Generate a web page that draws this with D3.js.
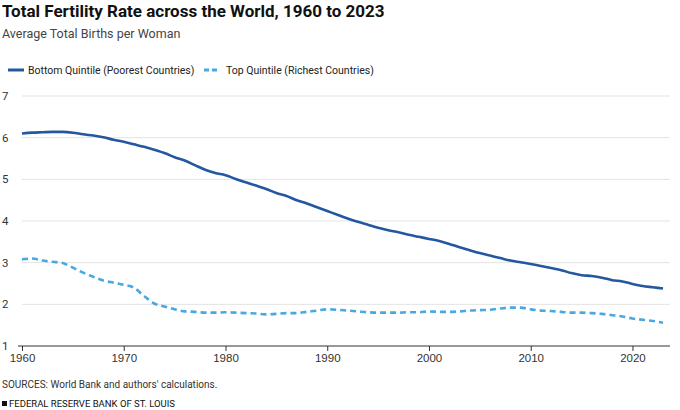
<!DOCTYPE html>
<html><head><meta charset="utf-8">
<script src="https://cdn.jsdelivr.net/npm/d3@7"></script>
<style>
body{margin:0;background:#fff;font-family:Roboto,"Noto Sans",sans-serif;}
.axis text{font-size:11.5px;fill:#333;}
</style></head><body>
<svg id="chart" width="680" height="410"></svg>
<script>
const years = d3.range(1960, 2024);
const bottomQuintile = [6.10,6.12,6.13,6.14,6.14,6.12,6.08,6.05,6.01,5.95,5.90,5.84,5.78,5.71,5.63,5.53,5.45,5.34,5.23,5.15,5.10,5.01,4.93,4.85,4.77,4.67,4.60,4.50,4.42,4.33,4.24,4.15,4.06,3.98,3.91,3.84,3.78,3.73,3.67,3.62,3.57,3.52,3.45,3.37,3.30,3.23,3.17,3.11,3.05,3.01,2.97,2.92,2.87,2.82,2.75,2.70,2.68,2.64,2.58,2.55,2.49,2.44,2.41,2.38];
const topQuintile = [3.08,3.10,3.05,3.02,2.99,2.88,2.76,2.66,2.57,2.52,2.47,2.40,2.20,2.02,1.95,1.88,1.83,1.82,1.80,1.80,1.81,1.80,1.79,1.78,1.76,1.77,1.79,1.79,1.82,1.85,1.88,1.87,1.85,1.83,1.81,1.80,1.80,1.80,1.81,1.81,1.83,1.82,1.82,1.83,1.85,1.86,1.87,1.90,1.92,1.92,1.88,1.85,1.84,1.82,1.80,1.80,1.79,1.77,1.74,1.71,1.66,1.63,1.60,1.56];
const yTicks = [1,2,3,4,5,6,7];
const xTicks = [1960,1970,1980,1990,2000,2010,2020];
const seriesNames = ["Bottom Quintile (Poorest Countries)", "Top Quintile (Richest Countries)"];

const svg = d3.select('#chart');
const margin = {top: 96, right: 14, bottom: 64, left: 22};
const height = 410 - margin.top - margin.bottom;

const x = d3.scaleLinear().domain([1960, 2023]).range([margin.left, margin.left + 641]);
const y = d3.scaleLinear().domain([1, 7]).range([margin.top + height, margin.top]);

svg.append('text').attr('x', 2).attr('y', 17).text('Total Fertility Rate across the World, 1960 to 2023')
	.style('font-size', '17px').style('font-weight', 'bold').style('fill', '#111');
svg.append('text').attr('x', 2).attr('y', 38).text('Average Total Births per Woman')
	.style('font-size', '12.5px').style('fill', '#444');

// legend
const leg = svg.append('g').attr('transform', 'translate(8,70)');
leg.append('line').attr('x1', 0).attr('x2', 16).attr('stroke', '#2457a0').attr('stroke-width', 3);
leg.append('text').attr('x', 20).attr('y', 4).text(seriesNames[0]).style('font-size', '10.5px').style('fill', '#222');
leg.append('line').attr('x1', 196).attr('x2', 212).attr('stroke', '#4aa8e0').attr('stroke-width', 3).attr('stroke-dasharray', '5,3');
leg.append('text').attr('x', 218).attr('y', 4).text(seriesNames[1]).style('font-size', '10.5px').style('fill', '#222');

// grid
svg.append('g').selectAll('line').data(yTicks.slice(1)).enter().append('line')
	.attr('x1', margin.left).attr('x2', 670)
	.attr('y1', d => y(d)).attr('y2', d => y(d))
	.attr('stroke', '#e3e3e3');

svg.append('g').attr('class', 'axis')
	.selectAll('text').data(yTicks).enter().append('text')
	.attr('x', 2).attr('y', d => y(d) + 4).text(d => d);

svg.append('line').attr('x1', margin.left - 4).attr('x2', 670)
	.attr('y1', y(1)).attr('y2', y(1)).attr('stroke', '#333');

svg.append('g').attr('class', 'axis')
	.attr('transform', 'translate(0,' + y(1) + ')')
	.call(d3.axisBottom(x).tickValues(xTicks).tickFormat(d3.format('d')).tickSize(5))
	.call(g => g.select('.domain').remove())
	.call(g => g.selectAll('line').attr('stroke', '#333'));

const line = d3.line().x((d, i) => x(years[i])).y(d => y(d)).curve(d3.curveMonotoneX);
svg.append('path').datum(bottomQuintile).attr('d', line)
	.attr('fill', 'none').attr('stroke', '#2457a0').attr('stroke-width', 2.6);
svg.append('path').datum(topQuintile).attr('d', line)
	.attr('fill', 'none').attr('stroke', '#4aa8e0').attr('stroke-width', 2.6).attr('stroke-dasharray', '6,4');

svg.append('text').attr('x', 2).attr('y', 388).text("SOURCES: World Bank and authors' calculations.")
	.style('font-size', '10px').style('fill', '#333');
svg.append('rect').attr('x', 2).attr('y', 401).attr('width', 5).attr('height', 5).attr('fill', '#111');
svg.append('text').attr('x', 9).attr('y', 407).text('FEDERAL RESERVE BANK OF ST. LOUIS')
	.style('font-size', '9.5px').style('fill', '#111');
</script>
</body></html>
